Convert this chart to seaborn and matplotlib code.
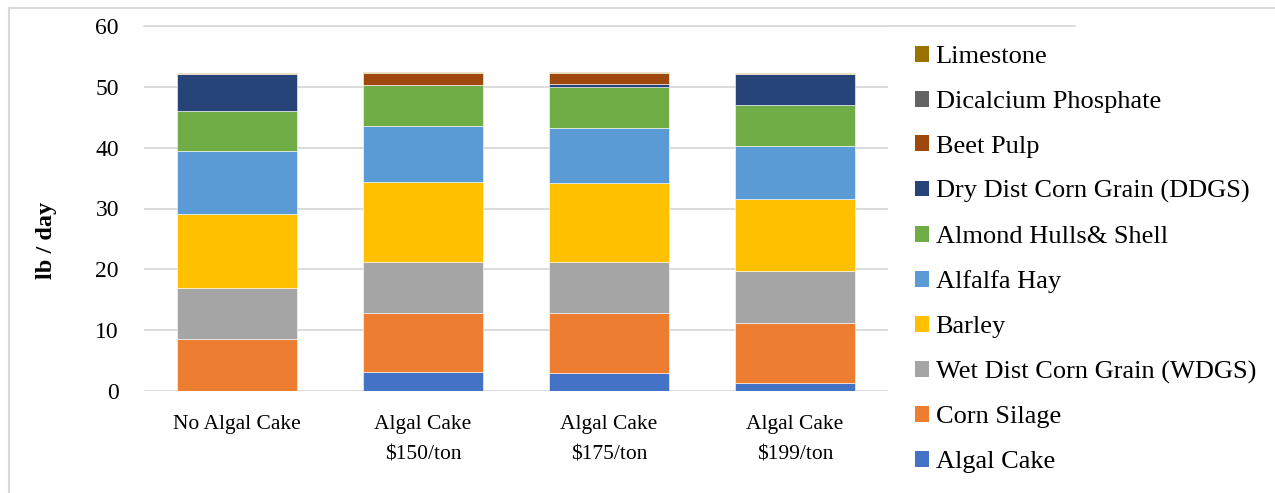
import matplotlib
matplotlib.use("Agg")
import matplotlib.pyplot as plt
from matplotlib.lines import Line2D
from matplotlib.patches import Patch
import numpy as np
import pandas as pd
import seaborn as sns

# Daily ration composition (lb / day) for each feeding scenario
scenarios = ["No Algal Cake", "Algal Cake\n$150/ton", "Algal Cake\n$175/ton", "Algal Cake\n$199/ton"]
ingredients = [
    "Algal Cake", "Corn Silage", "Wet Dist Corn Grain (WDGS)", "Barley",
    "Alfalfa Hay", "Almond Hulls& Shell", "Dry Dist Corn Grain (DDGS)",
    "Beet Pulp", "Dicalcium Phosphate", "Limestone",
]
algal_cake = [0.0, 3.13, 2.97, 1.32]
corn_silage = [8.52, 9.67, 9.78, 9.94]
wdgs = [8.35, 8.46, 8.40, 8.52]
barley = [12.25, 13.08, 13.03, 11.76]
alfalfa_hay = [10.33, 9.23, 9.06, 8.73]
almond_hulls = [6.65, 6.76, 6.71, 6.76]
ddgs = [5.93, 0.0, 0.55, 5.00]
beet_pulp = [0.0, 1.87, 1.75, 0.0]
dicalcium = [0.15, 0.10, 0.05, 0.10]
limestone = [0.15, 0.20, 0.20, 0.12]

series = [algal_cake, corn_silage, wdgs, barley, alfalfa_hay, almond_hulls,
          ddgs, beet_pulp, dicalcium, limestone]
colors = ["#4472C4", "#ED7D31", "#A5A5A5", "#FFC000", "#5B9BD5", "#70AD47",
          "#264478", "#9E480E", "#636363", "#997300"]

sns.set_theme(style="white")
plt.rcParams["font.family"] = ["Liberation Serif", "DejaVu Serif"]
plt.rcParams["text.color"] = "black"

fig = plt.figure(figsize=(12.75, 4.93), dpi=100)
W, H = 1275, 493
ax = fig.add_axes([144 / W, 1 - 391 / H, (888 - 144) / W, (391 - 26) / H])

bottom = np.zeros(len(scenarios))
for name, vals, col in zip(ingredients, series, colors):
    df = pd.DataFrame({"scenario": scenarios, "lb": vals})
    sns.barplot(data=df, x="scenario", y="lb", order=scenarios, color=col,
                saturation=1, width=0.645, bottom=bottom, ax=ax, zorder=3,
                edgecolor="white", linewidth=0.4, errorbar=None)
    bottom = bottom + np.array(vals)

ax.set_xlim(-0.5, 3.5)
ax.set_ylim(0, 60)
ax.set_yticks(range(0, 61, 10))
ax.yaxis.grid(True, color="#D9D9D9", linewidth=1.3, zorder=0)
ax.set_axisbelow(True)
# top gridline runs on behind the legend area
ax.axhline(60, xmin=0, xmax=(1075 - 144) / (888 - 144), color="#D9D9D9",
           linewidth=1.3, clip_on=False, zorder=0)
for s in ax.spines.values():
    s.set_visible(False)
ax.tick_params(axis="both", length=0)
ax.tick_params(axis="y", pad=18, labelsize=17, labelcolor="black")
ax.tick_params(axis="x", pad=17, labelsize=15.5, labelcolor="black")
for t in ax.get_xticklabels():
    t.set_linespacing(1.85)
ax.set_xlabel("")
ax.set_ylabel("lb / day", fontsize=17.5, fontweight="bold", color="black")
ax.yaxis.set_label_coords((57 - 144) / 744, (391 - 240) / 365)

handles = [Patch(facecolor=c, edgecolor="none") for c in colors][::-1]
labels = ingredients[::-1]
fig.legend(handles, labels, loc="center left",
           bbox_to_anchor=(904 / W, 1 - 259.5 / H), frameon=False,
           fontsize=19, handlelength=0.55, handleheight=0.55,
           handletextpad=0.25, labelspacing=0.85, borderpad=0.4,
           borderaxespad=0, labelcolor="black")

# light chart-area frame along the top and left edges
fig.add_artist(Line2D([9 / W, 9 / W], [0, 1 - 8 / H], color="#D9D9D9", linewidth=1.5))
fig.add_artist(Line2D([9 / W, 1], [1 - 8 / H, 1 - 8 / H], color="#D9D9D9", linewidth=1.5))

fig.savefig("out.png", dpi=100, facecolor="white")
